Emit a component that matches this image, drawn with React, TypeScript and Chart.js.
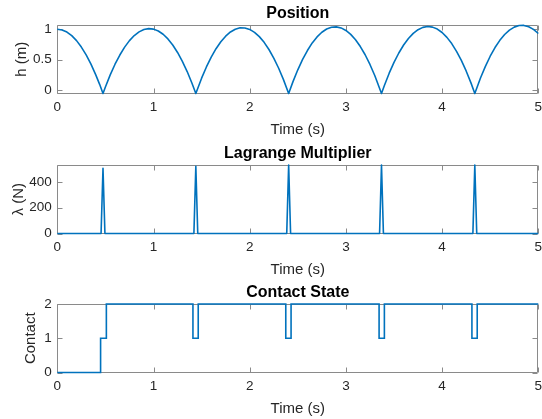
import React, { useEffect, useRef } from "react";
import { Chart, registerables } from "chart.js";
Chart.register(...registerables);

// ---- data ----
const timeTicks = [0, 1, 2, 3, 4, 5];

const posTime = [
  0, 0.05, 0.1, 0.15, 0.2, 0.25, 0.3, 0.35, 0.4, 0.44, 0.475,
  0.5, 0.55, 0.6, 0.65, 0.7, 0.75, 0.8, 0.85, 0.9, 0.95, 1.0, 1.05, 1.1, 1.15, 1.2, 1.25, 1.3, 1.35, 1.4, 1.44,
  1.5, 1.55, 1.6, 1.65, 1.7, 1.75, 1.8, 1.85, 1.9, 1.95, 2.0, 2.05, 2.1, 2.15, 2.2, 2.25, 2.3, 2.35, 2.405,
  2.45, 2.5, 2.55, 2.6, 2.65, 2.7, 2.75, 2.8, 2.85, 2.9, 2.95, 3.0, 3.05, 3.1, 3.15, 3.2, 3.25, 3.3, 3.37,
  3.4, 3.45, 3.5, 3.55, 3.6, 3.65, 3.7, 3.75, 3.8, 3.85, 3.9, 3.95, 4.0, 4.05, 4.1, 4.15, 4.2, 4.25, 4.3, 4.34,
  4.4, 4.45, 4.5, 4.55, 4.6, 4.65, 4.7, 4.75, 4.8, 4.85, 4.9, 4.95, 5.0,
];
const posHeight = [
  1.0, 0.988, 0.953, 0.894, 0.812, 0.706, 0.577, 0.424, 0.248, 0.091, -0.06,
  0.048, 0.247, 0.423, 0.575, 0.705, 0.812, 0.896, 0.957, 0.995, 1.01, 1.002, 0.971, 0.917, 0.84, 0.74, 0.617, 0.471, 0.302, 0.11, -0.06,
  0.193, 0.378, 0.54, 0.679, 0.794, 0.886, 0.955, 1.0, 1.023, 1.021, 0.997, 0.949, 0.878, 0.784, 0.666, 0.525, 0.361, 0.173, -0.06,
  0.136, 0.331, 0.502, 0.649, 0.774, 0.874, 0.951, 1.004, 1.033, 1.039, 1.022, 0.98, 0.915, 0.827, 0.714, 0.579, 0.419, 0.236, -0.06,
  0.073, 0.275, 0.453, 0.608, 0.74, 0.848, 0.932, 0.993, 1.031, 1.045, 1.035, 1.003, 0.946, 0.866, 0.763, 0.636, 0.486, 0.312, 0.115, -0.06,
  0.199, 0.388, 0.555, 0.698, 0.817, 0.913, 0.986, 1.035, 1.061, 1.063, 1.042, 0.998, 0.93,
];
const posTicks = [0, 0.5, 1];

const lambdaTime = [0, 0.455, 0.475, 0.495, 1.42, 1.44, 1.46, 2.385, 2.405, 2.425, 3.35, 3.37, 3.39, 4.32, 4.34, 4.36, 5];
const lambdaValue = [0, 0, 505, 0, 0, 520, 0, 0, 530, 0, 0, 530, 0, 0, 530, 0, 0];
const lambdaTicks = [0, 200, 400];

const contactTime = [0, 0.45, 0.51, 1.41, 1.465, 2.375, 2.43, 3.345, 3.4, 4.31, 4.365, 5];
const contactState = [0, 1, 2, 1, 2, 1, 2, 1, 2, 1, 2, 2];
const contactTicks = [0, 1, 2];

// ---- styling ----
const FONT = "'Liberation Sans', Arial, Helvetica, sans-serif";
const LINE = "#0072BD";
const TEXT = "#262626";

const boxPlugin = {
  id: "matlabBox",
  beforeDatasetsDraw(chart: any) {
    const { ctx, chartArea: a, scales } = chart;
    const xs = scales.x;
    const ys = scales.y;
    const l = Math.round(a.left) + 0.5;
    const r = Math.round(a.right) - 0.5;
    const t = Math.round(a.top) + 0.5;
    const b = Math.round(a.bottom) - 0.5;
    const L = 5;
    ctx.save();
    ctx.strokeStyle = "#8a8a8a";
    ctx.lineWidth = 1;
    ctx.beginPath();
    ctx.rect(l, t, r - l, b - t);
    xs.ticks.forEach((tk: any) => {
      const px = Math.round(xs.getPixelForValue(tk.value)) + 0.5;
      ctx.moveTo(px, b);
      ctx.lineTo(px, b - L);
      ctx.moveTo(px, t);
      ctx.lineTo(px, t + L);
    });
    ys.ticks.forEach((tk: any) => {
      const py = Math.round(ys.getPixelForValue(tk.value)) + 0.5;
      ctx.moveTo(l, py);
      ctx.lineTo(l + L, py);
      ctx.moveTo(r, py);
      ctx.lineTo(r - L, py);
    });
    ctx.stroke();
    ctx.restore();
  },
};

interface PlotSpec {
  title: string;
  yTitle: string;
  yTitleOffset: number;
  xs: number[];
  ys: number[];
  yMin: number;
  yMax: number;
  yTicks: number[];
  stepped?: boolean;
}

function makeConfig(p: PlotSpec): any {
  return {
    type: "line",
    data: {
      datasets: [
        {
          data: p.xs.map((x, i) => ({ x, y: p.ys[i] })),
          borderColor: LINE,
          borderWidth: 1.6,
          pointRadius: 0,
          fill: false,
          tension: 0,
          stepped: p.stepped ? "before" : false,
          borderJoinStyle: p.stepped ? "miter" : "round",
          clip: false,
        },
      ],
    },
    options: {
      animation: false,
      responsive: false,
      events: [],
      layout: { padding: { left: 0, right: 3.7, top: 0, bottom: 0 } },
      plugins: {
        legend: { display: false },
        tooltip: { enabled: false },
        title: {
          display: true,
          text: p.title,
          color: "#000",
          fullSize: false,
          font: { family: FONT, size: 16, weight: "bold", lineHeight: 1.2 },
          padding: { top: 4.4, bottom: 1.4 },
        },
      },
      scales: {
        x: {
          type: "linear",
          min: 0,
          max: 5,
          grid: { display: false, drawTicks: false },
          border: { display: false },
          afterBuildTicks: (s: any) => {
            s.ticks = timeTicks.map((v) => ({ value: v }));
          },
          afterFit: (s: any) => {
            s.height = 46.5;
            s.paddingLeft = 0;
            s.paddingRight = 0;
          },
          ticks: {
            color: TEXT,
            padding: 5.6,
            maxRotation: 0,
            autoSkip: false,
            font: { family: FONT, size: 13.5, lineHeight: 1.2 },
            callback: (v: any) => String(v),
          },
          title: {
            display: true,
            text: "Time (s)",
            color: TEXT,
            font: { family: FONT, size: 15, lineHeight: 1.2 },
            padding: { top: 0, bottom: 1.5 },
          },
        },
        y: {
          type: "linear",
          min: p.yMin,
          max: p.yMax,
          grid: { display: false, drawTicks: false },
          border: { display: false },
          afterBuildTicks: (s: any) => {
            s.ticks = p.yTicks.map((v) => ({ value: v }));
          },
          afterFit: (s: any) => {
            s.width = 57.3;
            s.paddingTop = 0;
            s.paddingBottom = 0;
          },
          ticks: {
            color: TEXT,
            padding: 5.6,
            autoSkip: false,
            font: { family: FONT, size: 13.5, lineHeight: 1.2 },
            callback: (v: any) => String(v),
          },
          title: {
            display: true,
            text: p.yTitle,
            color: TEXT,
            font: { family: FONT, size: 15, lineHeight: 1.2 },
            padding: { top: p.yTitleOffset - 9, bottom: 0 },
          },
        },
      },
    },
    plugins: [boxPlugin],
  };
}

const specs: PlotSpec[] = [
  { title: "Position", yTitle: "h (m)", yTitleOffset: 22, xs: posTime, ys: posHeight, yMin: -0.06, yMax: 1.07, yTicks: posTicks },
  { title: "Lagrange Multiplier", yTitle: "λ (N)", yTitleOffset: 19, xs: lambdaTime, ys: lambdaValue, yMin: 0, yMax: 530, yTicks: lambdaTicks },
  { title: "Contact State", yTitle: "Contact", yTitleOffset: 31, xs: contactTime, ys: contactState, yMin: 0, yMax: 2, yTicks: contactTicks, stepped: true },
];
const tops = [0, 140, 279];

function Plot({ spec, top }: { spec: PlotSpec; top: number }) {
  const ref = useRef<HTMLCanvasElement | null>(null);
  useEffect(() => {
    if (!ref.current) return;
    const chart = new Chart(ref.current, makeConfig(spec));
    return () => chart.destroy();
  }, [spec]);
  return (
    <canvas
      ref={ref}
      width={542}
      height={140}
      style={{ position: "absolute", left: 0, top, width: 542, height: 140, display: "block" }}
    />
  );
}

export default function App() {
  return (
    <div style={{ position: "absolute", left: 0, top: 0, width: 542, height: 419, background: "#fff", overflow: "hidden" }}>
      {specs.map((s, i) => (
        <Plot key={i} spec={s} top={tops[i]} />
      ))}
    </div>
  );
}
